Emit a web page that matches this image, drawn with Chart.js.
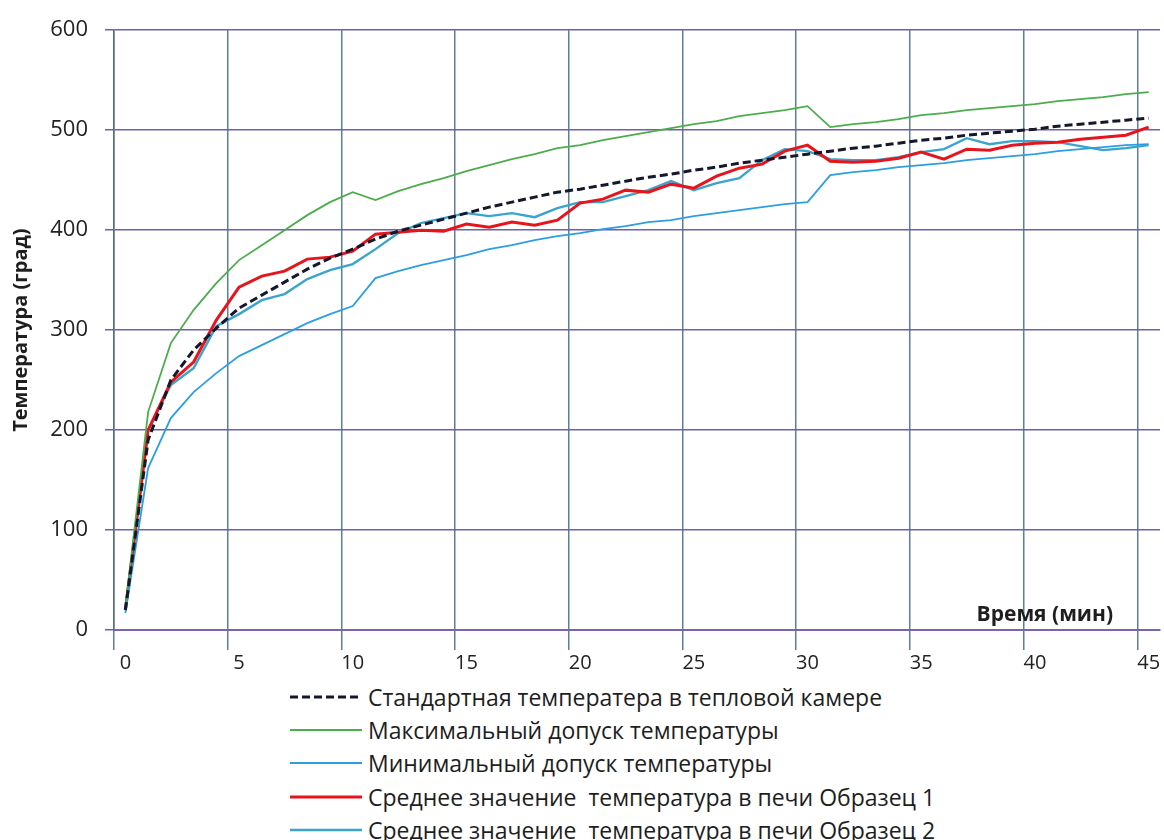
<!DOCTYPE html>
<html>
<head>
<meta charset="utf-8">
<script src="https://cdn.jsdelivr.net/npm/chart.js@4.4.0/dist/chart.umd.min.js"></script>
<style>
  body { margin: 0; background: #fff; font-family: "Open Sans", sans-serif; }
  #wrap { position: relative; width: 1164px; height: 840px; }
  #grafico { position: absolute; left: 0; top: 0; }
  #leyenda { position: absolute; left: 290px; top: 680px; color: #1e1e1e; font-size: 23px; }
  .fila { height: 33.3px; display: flex; align-items: center; white-space: pre; }
  .fila svg { margin-right: 6px; }
</style>
</head>
<body>
<div id="wrap">
  <canvas id="grafico" width="1164" height="680"></canvas>
  <div id="leyenda"></div>
</div>
<script>
// minutos
const tiempo = [0,1,2,3,4,5,6,7,8,9,10,11,12,13,14,15,16,17,18,19,20,21,22,23,24,25,26,27,28,29,30,31,32,33,34,35,36,37,38,39,40,41,42,43,44,45];

const tempEstandar = [20,190,250,280,302,322,335,348,361,372,381,391,399,405,411,417,423,428,433,438,441,445,449,453,456,460,463,467,470,473,476,479,482,484,487,490,492,495,497,499,501,504,506,508,510,512];
const tempMax = [23,218,287,320,347,370,385,400,415,428,438,430,439,446,452,459,465,471,476,482,485,490,494,498,502,506,509,514,517,520,524,503,506,508,511,515,517,520,522,524,526,529,531,533,536,538];
const tempMin = [17,162,212,238,257,274,285,296,307,316,324,352,359,365,370,375,381,385,390,394,397,401,404,408,410,414,417,420,423,426,428,455,458,460,463,465,467,470,472,474,476,479,481,483,485,486];
const tempObrazec1 = [20,200,248,268,310,343,354,359,371,373,379,396,398,400,399,406,403,408,405,410,427,431,440,438,446,442,454,462,466,479,485,469,468,469,472,478,471,481,480,485,487,488,491,493,495,503];
const tempObrazec2 = [20,200,245,262,304,316,330,336,351,360,366,381,397,407,412,417,414,417,413,422,428,428,434,440,449,440,447,452,470,481,479,471,470,470,473,478,481,492,486,489,489,488,484,480,482,485];

const nombres = [
    'Стандартная температера в тепловой камере',
    'Максимальный допуск температуры',
    'Минимальный допуск температуры',
    'Среднее значение  температура в печи Образец 1',
    'Среднее значение  температура в печи Образец 2'
];
const colores = ['#15182a', '#4cad4c', '#2c9fe2', '#e8141c', '#3aa4cc'];
const grosores = [3, 1.8, 1.8, 3, 2.4];

const series = [tempEstandar, tempMax, tempMin, tempObrazec1, tempObrazec2];

let datasets = [];
series.forEach(function(s, i) {
    datasets.push({
        label: nombres[i],
        data: s,
        borderColor: colores[i],
        borderWidth: grosores[i],
        borderDash: i == 0 ? [8, 4] : [],
        pointRadius: 0,
        tension: 0,
        fill: false
    });
});

const tituloX = {
    id: 'tituloX',
    afterDraw(chart) {
        let ctx = chart.ctx;
        let a = chart.chartArea;
        ctx.save();
        ctx.font = 'bold 21px "Open Sans"';
        ctx.fillStyle = '#1e1e1e';
        ctx.textAlign = 'right';
        ctx.textBaseline = 'middle';
        ctx.fillText('Время (мин)', a.right - 47, a.bottom - 15);
        ctx.restore();
    }
};

new Chart(document.getElementById('grafico'), {
    type: 'line',
    data: { labels: tiempo, datasets: datasets },
    plugins: [tituloX],
    options: {
        responsive: false,
        animation: false,
        devicePixelRatio: 1,
        layout: { padding: { top: 22, right: 4, left: 0, bottom: 0 } },
        plugins: { legend: { display: false }, tooltip: { enabled: false } },
        scales: {
            x: {
                type: 'category',
                offset: true,
                afterFit: function(s) { s.height = 50; },
                grid: {
                    offset: true,
                    tickLength: 20,
                    lineWidth: 1.5,
                    color: function(c) {
                        if (c.tick && c.index % 5 == 0) return '#5d7f9c';
                        return 'rgba(0,0,0,0)';
                    }
                },
                border: { color: '#7a63b0', width: 2 },
                ticks: {
                    autoSkip: false,
                    maxRotation: 0,
                    padding: 1,
                    color: '#222',
                    font: { family: 'Open Sans', size: 20 },
                    callback: function(v, i) { return tiempo[i] % 5 == 0 ? tiempo[i] : ''; }
                }
            },
            y: {
                min: 0,
                max: 600,
                afterFit: function(s) { s.width = 114; },
                ticks: {
                    stepSize: 100,
                    padding: 17,
                    color: '#222',
                    font: { family: 'Open Sans', size: 22 }
                },
                grid: { color: '#6f5fb0', lineWidth: 1.5, tickLength: 9 },
                border: { color: '#5a6a80', width: 1.5 },
                title: {
                    display: true,
                    text: 'Температура (град)',
                    color: '#1e1e1e',
                    font: { family: 'Open Sans', size: 20, weight: 'bold' },
                    padding: { top: 9, bottom: 0 }
                }
            }
        }
    }
});

// leyenda abajo, una serie por fila
let leyenda = document.getElementById('leyenda');
let html = '';
nombres.forEach(function(n, i) {
    let dash = i == 0 ? ' stroke-dasharray="8,4"' : '';
    html += '<div class="fila"><svg width="72" height="10"><line x1="0" y1="5" x2="72" y2="5" stroke="' + colores[i] +
        '" stroke-width="' + grosores[i] + '"' + dash + '/></svg><span>' + n + '</span></div>';
});
leyenda.innerHTML = html;
</script>
</body>
</html>
